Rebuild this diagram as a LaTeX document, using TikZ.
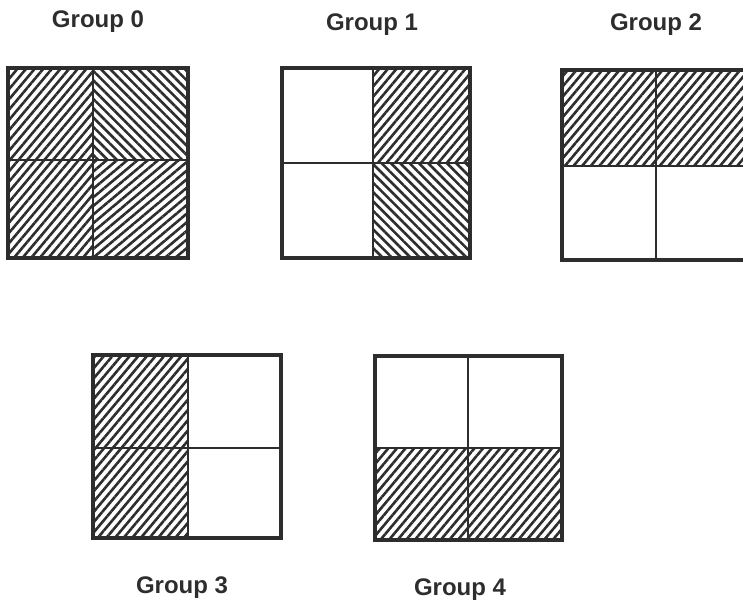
\documentclass[tikz,border=0pt]{standalone}
\usepackage{fontspec}
\setmainfont{Liberation Sans}
\usetikzlibrary{patterns.meta}
\definecolor{ink}{RGB}{45, 45, 45}

\begin{document}
\begin{tikzpicture}[x=1pt, y=-1pt,
    frame/.style={draw=ink, line width=3.6pt},
    divider/.style={draw=ink, line width=1.8pt},
    rising/.style={pattern={Lines[angle=50, distance=6.6pt, line width=2.6pt]}, pattern color=ink},
    flatrising/.style={pattern={Lines[angle=40, distance=6.6pt, line width=2.6pt]}, pattern color=ink},
    falling/.style={pattern={Lines[angle=-45, distance=6.6pt, line width=2.6pt]}, pattern color=ink},
    grouptitle/.style={font=\bfseries\fontsize{24}{29}\selectfont, text=ink}]
    \useasboundingbox (0,0) rectangle (743,603);
    \clip (0,0) rectangle (743,603);

    % Group 0: all four cells hatched
    \fill[rising] (8,68) rectangle (93,160);
    \fill[falling] (93,68) rectangle (188,160);
    \fill[rising] (8,160) rectangle (93,258);
    \fill[flatrising] (93,160) rectangle (188,258);
    \draw[divider] (93,68) -- (93,258) (8,160) -- (188,160);
    \draw[frame] (8,68) rectangle (188,258);
    \node[grouptitle] (title0) at (98,22) {Group 0};

    % Group 1: right column hatched
    \fill[rising] (373,68) rectangle (470,163);
    \fill[falling] (373,163) rectangle (470,258);
    \draw[divider] (373,68) -- (373,258) (282,163) -- (470,163);
    \draw[frame] (282,68) rectangle (470,258);
    \node[grouptitle] (title1) at (372,25) {Group 1};

    % Group 2: top row hatched, cut by the page edge
    \fill[rising] (562,70) rectangle (750,166);
    \draw[divider] (656,70) -- (656,260) (562,166) -- (750,166);
    \draw[frame] (562,70) rectangle (750,260);
    \node[grouptitle] (title2) at (656,25) {Group 2};

    % Group 3: left column hatched
    \fill[rising] (93,355) rectangle (188,538);
    \draw[divider] (188,355) -- (188,538) (93,448) -- (281,448);
    \draw[frame] (93,355) rectangle (281,538);
    \node[grouptitle] (title3) at (182,588) {Group 3};

    % Group 4: bottom row hatched
    \fill[rising] (375,448) rectangle (562,540);
    \draw[divider] (468,356) -- (468,540) (375,448) -- (562,448);
    \draw[frame] (375,356) rectangle (562,540);
    \node[grouptitle] (title4) at (460,590) {Group 4};
\end{tikzpicture}
\end{document}
